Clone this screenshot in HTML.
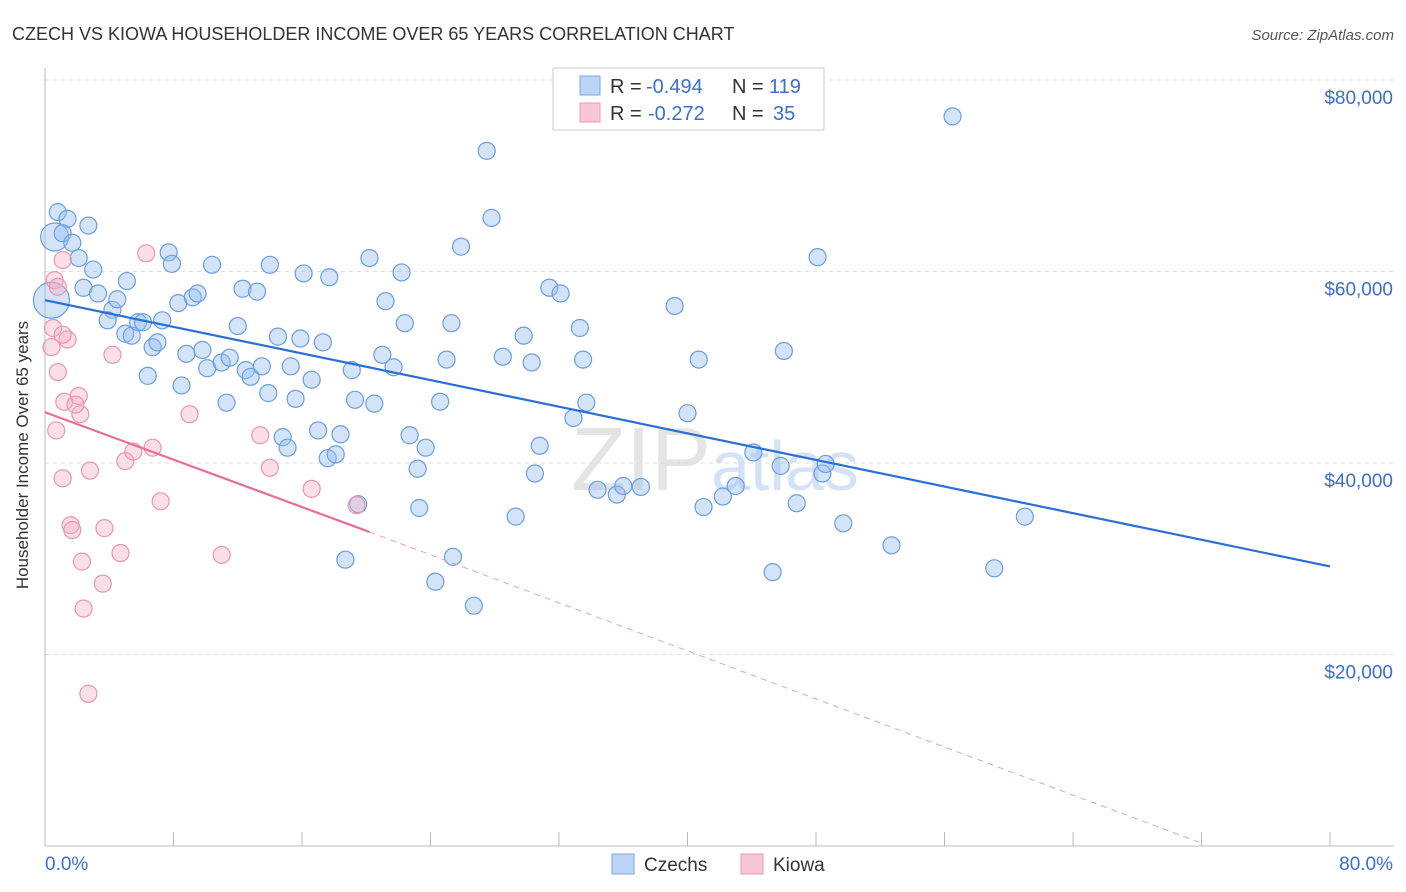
<!DOCTYPE html>
<html><head><meta charset="utf-8"><style>
html,body{margin:0;background:#fff;font-family:"Liberation Sans",sans-serif;overflow:hidden}
svg{display:block}
svg text{font-family:"Liberation Sans",sans-serif}
</style></head><body>
<svg id="c" width="1406" height="892">
<text x="12" y="40" font-size="18" fill="#333">CZECH VS KIOWA HOUSEHOLDER INCOME OVER 65 YEARS CORRELATION CHART</text>
<text x="1394" y="40" font-size="15" fill="#555" text-anchor="end" font-style="italic">Source: ZipAtlas.com</text>
<text x="28" y="455" font-size="17" fill="#333" text-anchor="middle" transform="rotate(-90 28 455)">Householder Income Over 65 years</text>
<text x="715" y="490" font-size="90" fill="#e4e4e4" text-anchor="middle" font-family="Liberation Serif">ZIP<tspan fill="#d3e2f5" font-family="Liberation Sans" font-size="70">atlas</tspan></text>
<g id="grid"></g><g id="pts"></g><g id="lines"></g>
<g>
<rect x="553" y="68" width="271" height="62" fill="#fff" stroke="#ccc"/>
<rect x="580" y="76" width="20" height="19" fill="#bcd4f5" stroke="#7fa9e0"/>
<rect x="580" y="103" width="20" height="19" fill="#f9c6d5" stroke="#e99ab2"/>
<text x="610" y="93" font-size="20" fill="#333">R =</text>
<text x="646" y="93" font-size="20" fill="#3a6fd0">-0.494</text>
<text x="732" y="93" font-size="20" fill="#333">N =</text>
<text x="769" y="93" font-size="20" fill="#3a6fd0">119</text>
<text x="610" y="120" font-size="20" fill="#333">R =</text>
<text x="648" y="120" font-size="20" fill="#3a6fd0">-0.272</text>
<text x="732" y="120" font-size="20" fill="#333">N =</text>
<text x="773" y="120" font-size="20" fill="#3a6fd0">35</text>
</g>
<g>
<rect x="612" y="854" width="22" height="20" fill="#bcd4f5" stroke="#7fa9e0"/>
<text x="644" y="871" font-size="19" fill="#333">Czechs</text>
<rect x="741" y="854" width="22" height="20" fill="#f9c6d5" stroke="#e99ab2"/>
<text x="773" y="871" font-size="19" fill="#333">Kiowa</text>
</g>
</svg>
<script>
const yTicks=[20000,40000,60000,80000];
const yTickLabels=["$20,000","$40,000","$60,000","$80,000"];
const xTickLabels=["0.0%","80.0%"];
const czechX=[0.6,0.8,1.4,1.1,1.7,2.7,2.1,3.0,2.4,3.3,4.2,4.5,5.1,3.9,5.0,5.4,5.8,6.1,6.7,7.0,6.4,7.3,7.7,7.9,8.3,9.2,9.5,8.5,8.8,9.8,10.1,10.4,11.0,11.5,12.0,11.3,12.3,12.5,12.8,13.2,13.5,13.9,14.0,14.5,14.8,15.1,15.3,15.6,15.9,16.1,16.6,17.0,17.3,17.7,17.6,18.1,18.4,18.7,19.1,19.3,19.5,20.2,20.5,21.0,21.2,21.7,22.2,22.4,22.7,23.2,23.3,23.7,24.3,24.6,25.0,25.3,25.4,25.9,26.7,27.5,27.8,28.5,29.3,29.8,30.3,30.5,30.8,31.4,32.1,32.9,33.3,33.5,33.7,34.4,35.6,36.0,37.1,39.2,40.0,40.7,41.0,42.2,43.0,44.1,45.3,45.8,46.0,46.8,48.1,48.4,48.6,49.7,52.7,56.5,59.1,61.0,0.4];
const czechY=[63.6,66.2,65.5,64.0,63.0,64.8,61.4,60.2,58.3,57.7,56.0,57.1,59.0,54.9,53.5,53.3,54.7,54.7,52.1,52.6,49.1,54.9,62.0,60.8,56.7,57.3,57.7,48.1,51.4,51.8,49.9,60.7,50.5,51.0,54.3,46.3,58.2,49.7,49.0,57.9,50.1,47.3,60.7,53.2,42.7,41.6,50.1,46.7,53.0,59.8,48.7,43.4,52.6,59.4,40.5,40.9,43.0,29.9,49.7,46.6,35.7,61.4,46.2,51.3,56.9,50.0,59.9,54.6,42.9,39.4,35.3,41.6,27.6,46.4,50.8,54.6,30.2,62.6,25.1,72.6,65.6,51.1,34.4,53.3,50.5,38.9,41.8,58.3,57.7,44.7,54.1,50.8,46.3,37.2,36.7,37.6,37.5,56.4,45.2,50.8,35.4,36.5,37.6,41.1,28.6,39.7,51.7,35.8,61.5,38.9,39.9,33.7,31.4,76.2,29.0,34.4,57.0];
const kiowaX=[0.5,0.6,0.4,0.8,1.1,0.8,0.7,1.1,1.2,1.6,1.7,1.4,2.1,2.2,2.3,2.4,2.8,2.7,3.6,3.7,4.2,4.7,5.0,5.5,1.1,6.7,6.3,7.2,9.0,11.0,13.4,14.0,16.6,19.4,1.9];
const kiowaY=[54.1,59.1,52.1,58.4,61.2,49.5,43.4,38.4,46.4,33.5,33.0,52.9,47.0,45.1,29.7,24.8,39.2,15.9,27.4,33.2,51.3,30.6,40.2,41.2,53.4,41.6,61.9,36.0,45.1,30.4,42.9,39.5,37.3,35.6,46.1];
const czechTrend=[[0,57.0],[80,29.2]];
const kiowaTrend=[[0,45.3],[20.2,32.8],[72,0.3]];
const NS="http://www.w3.org/2000/svg";
const X=v=>45+v/80*1285, Y=v=>846-v/20*191.5;
function mk(t,a,p){const e=document.createElementNS(NS,t);for(const k in a)e.setAttribute(k,a[k]);p.appendChild(e);return e;}
const grid=document.getElementById('grid');
yTicks.forEach((t,i)=>{
 const l=mk('line',{x1:45,x2:1394,y1:Y(t/1000),y2:Y(t/1000),stroke:'#ddd','stroke-dasharray':'4,4'},grid);
 
 
 const tx=mk('text',{x:1393,y:Y(t/1000)+24,'font-size':19,fill:'#3a6fd0','text-anchor':'end'},grid);
 tx.textContent=yTickLabels[i];
 
 
});
mk('line',{x1:45,x2:45,y1:68,y2:846,stroke:'#bbb'},grid);
mk('line',{x1:45,x2:1394,y1:846,y2:846,stroke:'#bbb'},grid);
for(let i=0;i<=10;i++){const t=mk('line',{x1:X(i*8),x2:X(i*8),y1:832,y2:846,stroke:'#bbb'},grid);}
[[0,'start',45],[1,'end',1393]].forEach(([i,a,x])=>{const t=mk('text',{x:x,y:870,'font-size':19,fill:'#3a6fd0','text-anchor':a},grid);t.textContent=xTickLabels[i];});
const pts=document.getElementById('pts');
const n=Math.min(czechX.length,czechY.length);
for(let i=0;i<n;i++){const big=i==0?14:(i==n-1?18:8.5);
 const c=mk('circle',{cx:X(czechX[i]),cy:Y(czechY[i]),r:big,fill:'rgba(150,190,240,0.42)',stroke:'#6b9ee0','stroke-width':1.2},pts);
 
 }
kiowaX.forEach((x,i)=>{const c=mk('circle',{cx:X(x),cy:Y(kiowaY[i]),r:8.5,fill:'rgba(245,170,195,0.38)',stroke:'#e896b0','stroke-width':1.2},pts);
 
 });
const ln=document.getElementById('lines');
const b=mk('line',{x1:X(czechTrend[0][0]),y1:Y(czechTrend[0][1]),x2:X(czechTrend[1][0]),y2:Y(czechTrend[1][1]),stroke:'#2a6fd6','stroke-width':2.2},ln);


const p1=mk('line',{x1:X(kiowaTrend[0][0]),y1:Y(kiowaTrend[0][1]),x2:X(kiowaTrend[1][0]),y2:Y(kiowaTrend[1][1]),stroke:'#e86d95','stroke-width':2.2},ln);


const p2=mk('line',{x1:X(kiowaTrend[1][0]),y1:Y(kiowaTrend[1][1]),x2:X(kiowaTrend[2][0]),y2:Y(kiowaTrend[2][1]),stroke:'#eaa0b8','stroke-width':1,'stroke-dasharray':'6,5'},ln);


</script>
</body></html>
